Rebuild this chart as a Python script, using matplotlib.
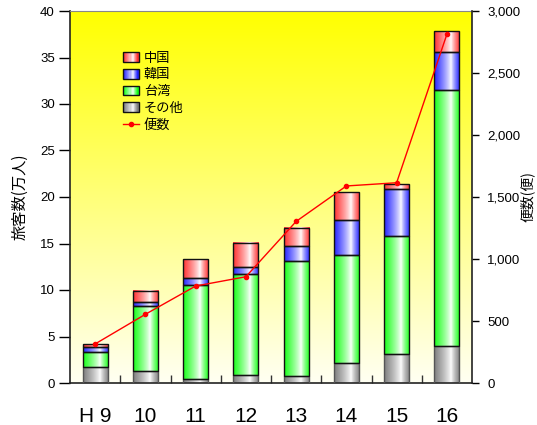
import numpy as np
import matplotlib
matplotlib.use("Agg")
import matplotlib.pyplot as plt
from matplotlib.patches import Rectangle
from matplotlib.lines import Line2D
from matplotlib.legend_handler import HandlerBase
from matplotlib.ticker import FuncFormatter, MultipleLocator

plt.rcParams['font.family'] = ['Liberation Sans', 'Noto Sans CJK JP', 'DejaVu Sans']

# Fiscal years (Heisei)
years = ["H 9", "10", "11", "12", "13", "14", "15", "16"]

# Passengers by origin (10,000 persons)
other = [1.7, 1.3, 0.4, 0.9, 0.8, 2.2, 3.1, 4.0]
taiwan = [1.6, 7.0, 10.1, 10.8, 12.3, 11.6, 12.7, 27.5]
korea = [0.6, 0.4, 0.8, 0.8, 1.6, 3.7, 5.1, 4.1]
china = [0.3, 1.2, 2.0, 2.6, 2.0, 3.0, 0.5, 2.2]

# Number of flights
flights = [315, 554, 782, 857, 1303, 1589, 1615, 2812]

series_names = ["その他", "台湾", "韓国", "中国"]
series_vals = [other, taiwan, korea, china]
series_cols = [(0.5, 0.5, 0.5), (0.1, 1.0, 0.1), (0.15, 0.15, 1.0), (1.0, 0.2, 0.2)]
edge_cols = ["#555555", "#111111", "#111111", "#111111"]


def cylinder_rgb(color, n=64, peak=0.66):
    t = np.linspace(0, 1, n)
    w = np.where(t < peak, (peak - t) / peak, (t - peak) / (1 - peak))
    w = np.clip(w, 0, 1) ** 0.8
    c = np.array(color)[None, :]
    return (1 - w)[:, None] * 1.0 + w[:, None] * c


fig = plt.figure(figsize=(5.37, 4.25), dpi=100)
ax = fig.add_axes([70 / 537, 1 - 383 / 425, 402 / 537, 372 / 425])
x = np.arange(len(years))
ax.set_xlim(-0.5, len(years) - 0.5)
ax.set_ylim(0, 40)

# Vertical yellow background gradient (yellow at top, ivory at bottom)
bg = np.linspace(0, 1, 256)[:, None]
bg_rgb = np.zeros((256, 1, 3))
bg_rgb[..., 0] = 1.0
bg_rgb[..., 1] = 1.0
bg_rgb[..., 2] = bg * 0.95
ax.imshow(bg_rgb, extent=(-0.5, len(years) - 0.5, 0, 40), aspect='auto',
          zorder=0, interpolation='bilinear')

# Stacked bars with horizontal shading
width = 0.5
bottom = np.zeros(len(years))
for vals, col, ec in zip(series_vals, series_cols, edge_cols):
    grad = cylinder_rgb(col)[None, :, :]
    for i, v in enumerate(vals):
        b0, b1 = bottom[i], bottom[i] + v
        ax.imshow(grad, extent=(x[i] - width / 2, x[i] + width / 2, b0, b1),
                  aspect='auto', zorder=2, interpolation='bilinear')
    ax.bar(x, vals, width, bottom=bottom, facecolor='none', edgecolor=ec,
           linewidth=1.0, zorder=3)
    bottom += np.array(vals)
ax.set_xlim(-0.5, len(years) - 0.5)
ax.set_ylim(0, 40)

# Axes styling
ax.set_xticks(x)
ax.set_xticklabels(years, fontsize=15)
ax.tick_params(axis='x', which='major', length=0, pad=17)
ax.set_xticks(np.arange(0.5, len(years) - 1, 1), minor=True)
ax.tick_params(axis='x', which='minor', direction='in', length=6, width=1, color='#333333')
ax.yaxis.set_major_locator(MultipleLocator(5))
ax.tick_params(axis='y', direction='out', length=8, width=1, labelsize=9.5, pad=3)
ax.set_ylabel("旅客数(万人)", fontsize=11, family=['Noto Sans CJK JP'], labelpad=8)
for s in ['left', 'bottom']:
    ax.spines[s].set_color('#222222')
    ax.spines[s].set_linewidth(1.2)
ax.spines['top'].set_color('#888888')
ax.spines['right'].set_visible(False)

# Flights on secondary axis
ax2 = ax.twinx()
ax2.set_ylim(0, 3000)
ax2.plot(x, flights, color='#ff0000', linewidth=1.0, marker='o', markersize=3, zorder=5)
ax2.yaxis.set_major_locator(MultipleLocator(500))
ax2.yaxis.set_major_formatter(FuncFormatter(lambda v, p: f"{int(v):,}"))
ax2.tick_params(axis='y', direction='out', length=5, width=1, labelsize=9.5, pad=6)
ax2.spines['right'].set_color('#222222')
ax2.spines['right'].set_linewidth(1.2)
ax2.spines['top'].set_visible(False)
ax2.spines['left'].set_visible(False)
ax2.spines['bottom'].set_visible(False)
ax2.set_ylabel("便数(便)", fontsize=10, family=['Noto Sans CJK JP'], rotation=90)
ax2.yaxis.set_label_coords(1.118, 0.5)


class GradientPatchHandler(HandlerBase):
    def __init__(self, color, edge):
        super().__init__()
        self.color = color
        self.edge = edge

    def create_artists(self, legend, orig_handle, xdescent, ydescent, width, height,
                       fontsize, trans):
        cols = cylinder_rgb(self.color, n=14)
        n = len(cols)
        arts = []
        for k, c in enumerate(cols):
            arts.append(Rectangle((-xdescent + width * k / n, -ydescent), width / n + 0.3,
                                  height, facecolor=c, edgecolor='none', transform=trans))
        arts.append(Rectangle((-xdescent, -ydescent), width, height, facecolor='none',
                              edgecolor=self.edge, linewidth=1.0, transform=trans))
        return arts


leg_handles = []
leg_labels = []
handler_map = {}
for name, col, ec in list(zip(series_names, series_cols, edge_cols))[::-1]:
    h = Rectangle((0, 0), 1, 1)
    leg_handles.append(h)
    leg_labels.append(name)
    handler_map[h] = GradientPatchHandler(col, '#111111')
line_h = Line2D([], [], color='#ff0000', linewidth=1.0, marker='o', markersize=3)
leg_handles.append(line_h)
leg_labels.append("便数")

leg = ax2.legend(leg_handles, leg_labels, handler_map=handler_map,
                 loc='upper left', bbox_to_anchor=(0.118, 0.905), frameon=False,
                 prop={'family': ['Noto Sans CJK JP'], 'size': 9.5},
                 handlelength=1.2, handleheight=0.75, handletextpad=0.4,
                 labelspacing=0.28, borderaxespad=0)

fig.savefig("out.png", dpi=100)
